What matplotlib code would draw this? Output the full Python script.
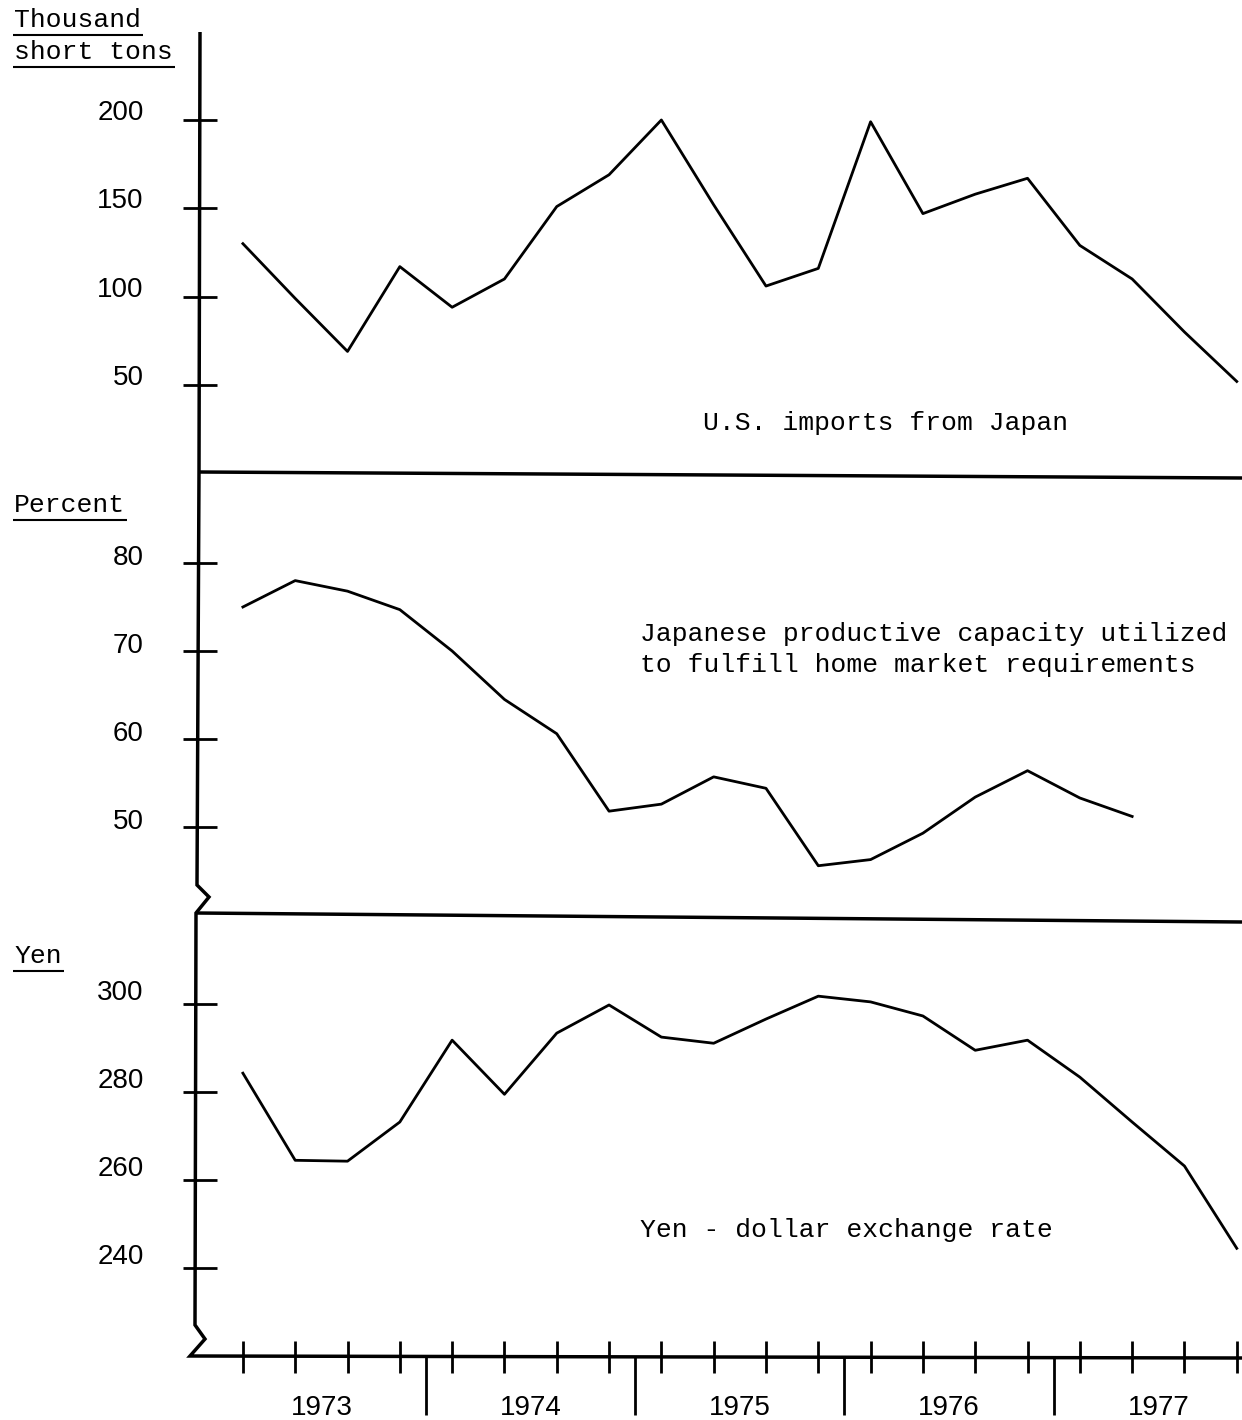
import matplotlib
matplotlib.use("Agg")
import matplotlib.pyplot as plt
from matplotlib.lines import Line2D
from matplotlib.transforms import ScaledTranslation

# quarterly data, 1973 Q1 .. 1977 Q4
quarters = list(range(20))
years = ["1973", "1974", "1975", "1976", "1977"]

imports = [130, 99, 69, 117, 94, 110, 151, 169, 200, 152,
           106, 116, 199, 147, 158, 167, 129, 110, 80, 52]
capacity = [75.0, 78.0, 76.8, 74.7, 70.0, 64.5, 60.6, 51.8, 52.6,
            55.7, 54.4, 45.6, 46.3, 49.3, 53.4, 56.4, 53.3, 51.2]
yen_rate = [284.3, 264.5, 264.3, 273.2, 291.8, 279.5, 293.4, 299.8, 292.5, 291.1,
            296.6, 301.8, 300.5, 297.3, 289.5, 291.8, 283.4, 273.2, 263.2, 244.5]

imports_ticks = [200, 150, 100, 50]
capacity_ticks = [80, 70, 60, 50]
yen_ticks = [300, 280, 260, 240]

W, H = 1242, 1420
MONO = "Liberation Mono"
NUM = "Liberation Sans"
LW_AX = 2.5
LW_DATA = 2.0


def px(x, y):
    return x / W, 1 - y / H


def fig_line(fig, pts, lw=LW_AX):
    xs = [p[0] / W for p in pts]
    ys = [1 - p[1] / H for p in pts]
    fig.add_artist(Line2D(xs, ys, color="black", lw=lw, solid_capstyle="butt",
                          solid_joinstyle="miter"))


def panel(fig, top_px, bottom_px, ylim, ticks, dy):
    x0, y0 = px(200, bottom_px)
    ax = fig.add_axes([x0, y0, 1 - x0, (bottom_px - top_px) / H])
    ax.set_xlim(-0.82, 19.1)
    ax.set_ylim(*ylim)
    for s in ax.spines.values():
        s.set_visible(False)
    ax.set_yticks(ticks)
    ax.set_yticklabels([str(t) for t in ticks], fontfamily=NUM, fontsize=20)
    ax.tick_params(axis="y", direction="inout", length=25, width=2.0, pad=28)
    for lab in ax.get_yticklabels():
        lab.set_transform(lab.get_transform() + ScaledTranslation(0, dy / 100, fig.dpi_scale_trans))
    ax.set_xticks([])
    ax.patch.set_alpha(0)
    return ax


fig = plt.figure(figsize=(W / 100, H / 100), dpi=100)

# top: imports
ax1 = panel(fig, 32, 472, (0.75, 249.8), imports_ticks, 10)
ax1.plot(quarters, imports, color="black", lw=LW_DATA)
ax1.text(0.658, 0.111, "U.S. imports from Japan", transform=ax1.transAxes,
         ha="center", va="center", fontfamily=MONO, fontsize=19)

# middle: capacity utilization
ax2 = panel(fig, 472, 913, (40.23, 90.34), capacity_ticks, 8)
ax2.plot(quarters[:len(capacity)], capacity, color="black", lw=LW_DATA)
ax2.text(0.422, 0.598, "Japanese productive capacity utilized\nto fulfill home market requirements",
         transform=ax2.transAxes, ha="left", va="center", fontfamily=MONO, fontsize=19,
         linespacing=1.35)

# bottom: exchange rate
ax3 = panel(fig, 913, 1357, (219.8, 320.7), yen_ticks, 14)
ax3.plot(quarters, yen_rate, color="black", lw=LW_DATA)
ax3.text(0.422, 0.286, "Yen - dollar exchange rate", transform=ax3.transAxes,
         ha="left", va="center", fontfamily=MONO, fontsize=19)

# quarter ticks and year separators on the bottom axis
ax3.set_xticks(quarters)
ax3.set_xticks([4 * i + 3.5 for i in range(len(years) - 1)], minor=True)
ax3.tick_params(axis="x", which="major", direction="inout", length=23, width=2.0,
                labelbottom=False)
ax3.tick_params(axis="x", which="minor", direction="out", length=42, width=2.0,
                labelbottom=False)
for i, yr in enumerate(years):
    ax3.text(4 * i + 1.5, -0.115, yr, transform=ax3.get_xaxis_transform(),
             ha="center", va="center", fontfamily=NUM, fontsize=20)

# frame: vertical axis with breaks, separators, base line
fig_line(fig, [(200, 32), (199, 472), (197, 885), (209, 897), (196, 913), (195, 1325),
               (205, 1339), (190, 1356), (1242, 1358)])
fig_line(fig, [(199, 472), (1242, 478)])
fig_line(fig, [(196, 913), (1242, 922)])

# unit labels, underlined
labels = [("Thousand", 14, 20), ("short tons", 14, 52), ("Percent", 14, 505), ("Yen", 14, 956)]
texts = []
for s, x, y in labels:
    t = fig.text(*px(x, y), s, ha="left", va="center", fontfamily=MONO, fontsize=19)
    texts.append((t, y))
fig.canvas.draw()
r = fig.canvas.get_renderer()
for t, y in texts:
    bb = t.get_window_extent(r)
    fig_line(fig, [(bb.x0 - 1, y + 15), (bb.x1 + 2, y + 15)], lw=1.5)

fig.savefig("out.png", dpi=100)
